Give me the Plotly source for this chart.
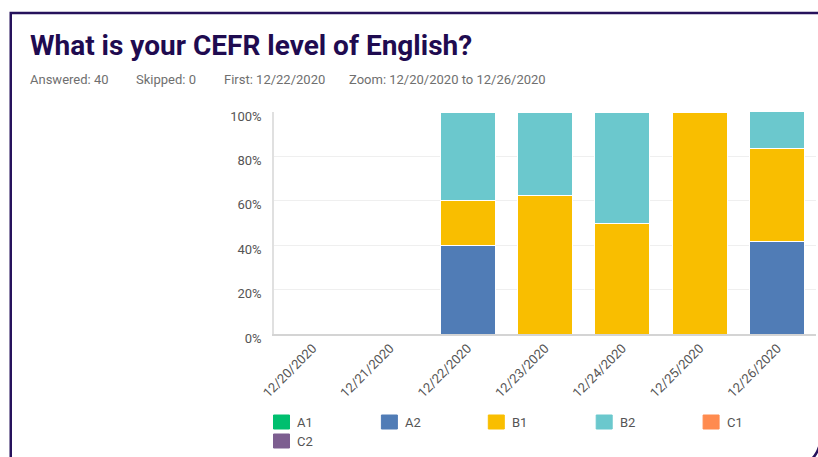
import plotly.graph_objects as go

# Survey question: share of respondents per CEFR level, by day
dates = ["12/20/2020", "12/21/2020", "12/22/2020", "12/23/2020",
         "12/24/2020", "12/25/2020", "12/26/2020"]
levels = ["A1", "A2", "B1", "B2", "C1", "C2"]
colors = ["#00bf6f", "#507cb6", "#f9be00", "#6bc8cd", "#ff8b4f", "#7d5e90"]

a1 = [0, 0, 0, 0, 0, 0, 0]
a2 = [0, 0, 40, 0, 0, 0, 41.67]
b1 = [0, 0, 20, 62.5, 50, 100, 41.67]
b2 = [0, 0, 40, 37.5, 50, 0, 16.67]
c1 = [0, 0, 0, 0, 0, 0, 0]
c2 = [0, 0, 0, 0, 0, 0, 0]
series = [a1, a2, b1, b2, c1, c2]

y_ticks = [0, 20, 40, 60, 80, 100]
y_labels = ["0%", "20%", "40%", "60%", "80%", "100%"]

title = "What is your CEFR level of English?"
stats = ["Answered: 40", "Skipped: 0", "First: 12/22/2020",
         "Zoom: 12/20/2020 to 12/26/2020"]

W, H = 818, 457
L, R, T, B = 273.5, 816, 112, 334   # plot area in pixels


def px(x):
    return (x - L) / (R - L)


def py(y):
    return (B - y) / (B - T)


fig = go.Figure()
for name, vals, col in zip(levels, series, colors):
    fig.add_trace(go.Bar(
        x=dates, y=[v if v else None for v in vals], name=name,
        marker=dict(color=col, line=dict(color="white", width=1)),
        showlegend=False,
    ))

font = "Roboto, 'Open Sans', sans-serif"
annotations = []
shapes = []

# card title and summary line
annotations.append(dict(text=f"<b>{title}</b>", x=px(27), y=py(45), xref="paper",
                        yref="paper", xanchor="left", yanchor="middle", showarrow=False,
                        font=dict(family=font, size=28, color="#1f0b50")))
stat_x = [27, 133, 221, 347]
for s, sx in zip(stats, stat_x):
    annotations.append(dict(text=s, x=px(sx), y=py(80), xref="paper", yref="paper",
                            xanchor="left", yanchor="middle", showarrow=False,
                            font=dict(family=font, size=13, color="#6f6f6f")))

# legend built from the level names and colours
leg_x = [273, 381, 488, 596, 703]
for i, (name, col) in enumerate(zip(levels, colors)):
    row, colno = divmod(i, 5)
    x0 = leg_x[colno]
    yc = 422 + row * 19
    shapes.append(dict(type="rect", xref="paper", yref="paper",
                       x0=px(x0), x1=px(x0 + 16), y0=py(yc - 7), y1=py(yc + 7),
                       fillcolor=col, line=dict(color=col, width=1)))
    annotations.append(dict(text=name, x=px(x0 + 22), y=py(yc), xref="paper",
                            yref="paper", xanchor="left", yanchor="middle",
                            showarrow=False,
                            font=dict(family=font, size=13, color="#555555")))

# card border
border = "#26125c"
path = (f"M {px(10)},{py(470)} L {px(10)},{py(13)} L {px(840)},{py(13)} "
        f"M {px(806)},{py(462)} Q {px(817)},{py(459)} {px(821)},{py(440)} "
        f"L {px(821)},{py(13)}")
shapes.append(dict(type="path", path=path, xref="paper", yref="paper",
                   line=dict(color=border, width=2.5)))

fig.update_layout(
    width=W, height=H,
    margin=dict(l=L, r=W - R, t=T, b=H - B, pad=0),
    barmode="stack", bargap=0.29,
    plot_bgcolor="white", paper_bgcolor="white",
    annotations=annotations, shapes=shapes,
    font=dict(family=font, size=12, color="#555555"),
    xaxis=dict(type="category", tickangle=-45, showgrid=False,
               showline=True, linecolor="#d4d4d4", linewidth=1.5,
               ticks="", tickfont=dict(size=13, color="#555555")),
    yaxis=dict(range=[0, 100], tickvals=y_ticks, ticktext=y_labels,
               showgrid=True, gridcolor="#efefef",
               showline=True, linecolor="#e0e0e0", linewidth=1.5,
               zeroline=False, ticks="", ticklabelstandoff=8,
               ticklabelshift=4,
               tickfont=dict(size=13, color="#555555")),
)

fig.write_html("out.html")
